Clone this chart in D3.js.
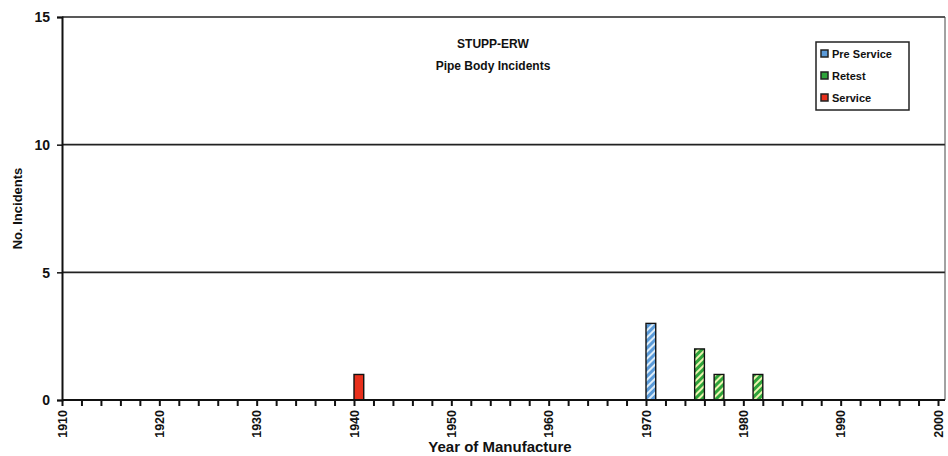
<!DOCTYPE html>
<html>
<head>
<meta charset="utf-8">
<script src="https://cdn.jsdelivr.net/npm/d3@7"></script>
<style>
  body { margin: 0; background: #fff; }
  text { font-family: "Liberation Sans", Arial, sans-serif; fill: #111; }
</style>
</head>
<body>
<div id="chart"></div>
<script>
// series, one value per year
var categories = ["Pre Service", "Retest", "Service"]
var years = [1940, 1970, 1975, 1977, 1981]
var preService = [0, 3, 0, 0, 0]
var retest = [0, 0, 2, 1, 1]
var service = [1, 0, 0, 0, 0]
var yTicks = [0, 5, 10, 15]
var xTickLabels = [1910, 1920, 1930, 1940, 1950, 1960, 1970, 1980, 1990, 2000]

var colors = {"Pre Service": "#5a9ad8", "Retest": "#2ea33a", "Service": "#e8301c"}

var width = 948, height = 456
var margin = {top: 17, left: 62, right: 10, bottom: 56}

var svg = d3.select("#chart").append("svg")
    .attr("width", width)
    .attr("height", height)

// hatch patterns
var defs = svg.append("defs")
function hatch(id, base, stripe) {
    var p = defs.append("pattern")
        .attr("id", id)
        .attr("patternUnits", "userSpaceOnUse")
        .attr("width", 5).attr("height", 5)
        .attr("patternTransform", "rotate(45)")
    p.append("rect").attr("width", 5).attr("height", 5).attr("fill", base)
    p.append("rect").attr("width", 2).attr("height", 5).attr("fill", stripe)
}
hatch("hatch-pre", colors["Pre Service"], "#dcecf8")
hatch("hatch-retest", colors["Retest"], "#eef5b0")
var fills = {"Pre Service": "url(#hatch-pre)", "Retest": "url(#hatch-retest)", "Service": colors["Service"]}

var x = d3.scaleLinear()
    .domain([1910, 2000])
    .range([margin.left, 938])

var y = d3.scaleLinear()
    .domain([0, 15])
    .range([height - margin.bottom, margin.top])

var rightEdge = 945

// gridlines (5, 10, 15)
svg.append("g").selectAll("line")
    .data(yTicks.filter(d => d > 0))
    .enter().append("line")
    .attr("x1", margin.left).attr("x2", rightEdge)
    .attr("y1", d => y(d)).attr("y2", d => y(d))
    .attr("stroke", "#222").attr("stroke-width", 1.6)

// right border
svg.append("line")
    .attr("x1", rightEdge).attr("x2", rightEdge)
    .attr("y1", y(15)).attr("y2", y(0))
    .attr("stroke", "#444").attr("stroke-width", 1)

// bars
var table = years.map((yr, i) => ({year: yr, "Pre Service": preService[i], "Retest": retest[i], "Service": service[i]}))
var stacked = d3.stack().keys(categories)(table)

svg.append("g").selectAll("g")
    .data(stacked)
    .enter().append("g")
    .selectAll("rect")
    .data(d => d.map(v => ({key: d.key, v: v})))
    .enter().filter(d => d.v[1] - d.v[0] > 0).append("rect")
    .attr("x", d => x(d.v.data.year))
    .attr("width", d => x(d.v.data.year + 1) - x(d.v.data.year))
    .attr("y", d => y(d.v[1]))
    .attr("height", d => y(d.v[0]) - y(d.v[1]))
    .attr("fill", d => fills[d.key])
    .attr("stroke", "#111")
    .attr("stroke-width", 1.4)

// y axis
var yAxis = d3.axisLeft(y)
    .tickValues(yTicks)
    .tickSize(5)
    .tickPadding(7)
    .tickFormat(d3.format("d"))
var gy = svg.append("g")
    .attr("transform", "translate(" + margin.left + ",0)")
    .call(yAxis)
gy.select(".domain").attr("stroke", "#111").attr("stroke-width", 2)
gy.selectAll(".tick line").attr("stroke", "#111").attr("stroke-width", 1.5)
gy.selectAll("text").style("font-size", "14px").style("font-weight", "bold").attr("dy", "0.35em")

// x axis (minor ticks every 2 years)
var xAxis = d3.axisBottom(x)
    .tickValues(d3.range(1910, 2001, 2))
    .tickSize(6)
    .tickSizeOuter(0)
    .tickFormat("")
var gx = svg.append("g")
    .attr("transform", "translate(0," + y(0) + ")")
    .call(xAxis)
gx.select(".domain").attr("d", "M" + margin.left + ",0H" + rightEdge).attr("stroke", "#111").attr("stroke-width", 2)
gx.selectAll(".tick line").attr("stroke", "#111").attr("stroke-width", 2)

svg.append("g").selectAll("text")
    .data(xTickLabels)
    .enter().append("text")
    .attr("transform", d => "translate(" + (x(d) + 4.5) + "," + (y(0) + 10) + ") rotate(-90)")
    .attr("text-anchor", "end")
    .style("font-size", "12.5px")
    .style("font-weight", "bold")
    .text(d => d)

// axis titles
svg.append("text")
    .attr("transform", "translate(22," + ((y(0) + y(15)) / 2) + ") rotate(-90)")
    .attr("text-anchor", "middle")
    .style("font-size", "13px")
    .style("font-weight", "bold")
    .text("No. Incidents")

svg.append("text")
    .attr("x", 500).attr("y", 452)
    .attr("text-anchor", "middle")
    .style("font-size", "15px")
    .style("font-weight", "bold")
    .text("Year of Manufacture")

// chart title
svg.append("text")
    .attr("x", 493).attr("y", 48)
    .attr("text-anchor", "middle")
    .style("font-size", "12px").style("font-weight", "bold")
    .text("STUPP-ERW")
svg.append("text")
    .attr("x", 493).attr("y", 70)
    .attr("text-anchor", "middle")
    .style("font-size", "12px").style("font-weight", "bold")
    .text("Pipe Body Incidents")

// legend
var legend = svg.append("g").attr("transform", "translate(816,42)")
legend.append("rect")
    .attr("width", 93).attr("height", 68)
    .attr("fill", "#fff")
    .attr("stroke", "#222").attr("stroke-width", 1.5)
var item = legend.selectAll(".item")
    .data(categories)
    .enter().append("g")
    .attr("transform", (d, i) => "translate(5," + (12 + i * 22) + ")")
item.append("rect")
    .attr("x", 0).attr("y", -4)
    .attr("width", 7).attr("height", 7)
    .attr("fill", d => colors[d])
    .attr("stroke", "#222").attr("stroke-width", 1.5)
item.append("text")
    .attr("x", 11).attr("y", 4)
    .style("font-size", "11px").style("font-weight", "bold")
    .text(d => d)
</script>
</body>
</html>
